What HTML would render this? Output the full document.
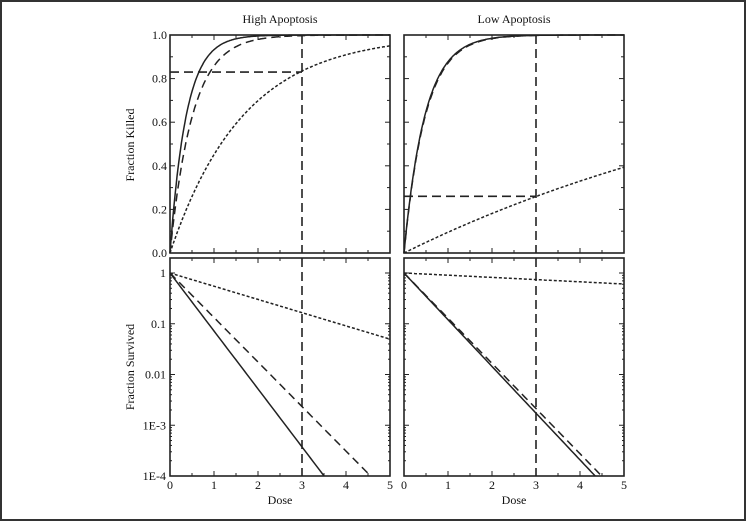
<!DOCTYPE html>
<html><head><meta charset="utf-8"><style>
html,body{margin:0;padding:0;background:#fff}
svg{display:block}
text{font-family:"Liberation Serif",serif;fill:#111}
</style></head><body>
<svg id="s" width="746" height="521" xmlns="http://www.w3.org/2000/svg">
<rect x="1" y="1" width="744" height="519" fill="#fff" stroke="#333" stroke-width="2"/>
<text x="280" y="23" font-size="12" text-anchor="middle">High Apoptosis</text>
<text x="514" y="23" font-size="12" text-anchor="middle">Low Apoptosis</text>
<text transform="translate(134,145) rotate(-90)" font-size="12" text-anchor="middle">Fraction Killed</text>
<text transform="translate(134,367) rotate(-90)" font-size="12" text-anchor="middle">Fraction Survived</text>
<text x="280" y="504" font-size="12" text-anchor="middle">Dose</text>
<text x="514" y="504" font-size="12" text-anchor="middle">Dose</text>
<g id="g"></g>
</svg>
<script>
const g=document.getElementById('g');let h='';
const T0=35,T1=253,B0=258,B1=476,W=220,BT=273,DEC=(B1-BT)/4;
function X(x0,d){return x0+d*W/5}
function yt(f){return T1-f*(T1-T0)}
function yb(s){return BT+(-Math.log10(s))*DEC}
function line(x1,y1,x2,y2,w,da){h+=`<line x1="${x1}" y1="${y1}" x2="${x2}" y2="${y2}" stroke="#222" stroke-width="${w}" ${da?`stroke-dasharray="${da}"`:''}/>`}
function path(pts,da){h+=`<path d="M${pts.map(p=>p[0].toFixed(1)+','+p[1].toFixed(1)).join('L')}" fill="none" stroke="#222" stroke-width="1.5" ${da?`stroke-dasharray="${da}"`:''}/>`}
const sets=[[170,[2.7,1.95,0.6],[2.63,2.02,0.6],0.83],[404,[2.1,2.05,0.1],[2.12,2.05,0.1],0.26]];
const das=['','8,5','3,2'];
sets.forEach(([x0,kt,kb,hl],pi)=>{
 h+=`<rect x="${x0}" y="${T0}" width="${W}" height="${T1-T0}" fill="none" stroke="#222" stroke-width="1.6"/>`;
 h+=`<rect x="${x0}" y="${B0}" width="${W}" height="${B1-B0}" fill="none" stroke="#222" stroke-width="1.6"/>`;
 for(let i=0;i<=10;i++){const x=X(x0,i/2),l=i%2?3:5;line(x,T1,x,T1-l,1);line(x,T0,x,T0+l,1);line(x,B1,x,B1-l,1);line(x,B0,x,B0+l,1);
  if(i%2==0)h+=`<text x="${x}" y="${B1+13}" font-size="12" text-anchor="middle">${i/2}</text>`;}
 for(let i=0;i<=10;i++){const y=yt(i/10),l=i%2?3:5;line(x0,y,x0+l,y,1);line(x0+W,y,x0+W-l,y,1);
  if(pi==0&&i%2==0)h+=`<text x="${x0-3}" y="${y+4}" font-size="12" text-anchor="end">${(i/10).toFixed(1)}</text>`;}
 const lb=['1','0.1','0.01','1E-3','1E-4'];
 for(let dcd=-1;dcd<4;dcd++)for(let m=1;m<10;m++){const y=yb(Math.pow(10,-dcd-1)*m);if(y<B0)continue;const l=m==1?5:2;line(x0,y,x0+l,y,1);line(x0+W,y,x0+W-l,y,1);}
 if(pi==0)lb.forEach((t,i)=>{h+=`<text x="${x0-4}" y="${BT+i*DEC+4}" font-size="12" text-anchor="end">${t}</text>`});
 kt.forEach((k,j)=>{const p=[];for(let d=0;d<=5.0001;d+=0.02)p.push([X(x0,d),yt(1-Math.exp(-k*d))]);path(p,das[j]);});
 kb.forEach((k,j)=>{const p=[];for(let d=0;d<=5.0001;d+=0.05){const s=Math.exp(-k*d);if(s<1e-4){p.push([X(x0,4*Math.LN10/k),B1]);break;}p.push([X(x0,d),yb(s)]);}path(p,das[j]);});
 line(X(x0,3),T0,X(x0,3),T1,1.6,'9,5');line(X(x0,3),B0,X(x0,3),B1,1.6,'9,5');
 line(x0,yt(hl),X(x0,3),yt(hl),1.6,'9,5');
});
g.innerHTML=h;
</script>
</body></html>
